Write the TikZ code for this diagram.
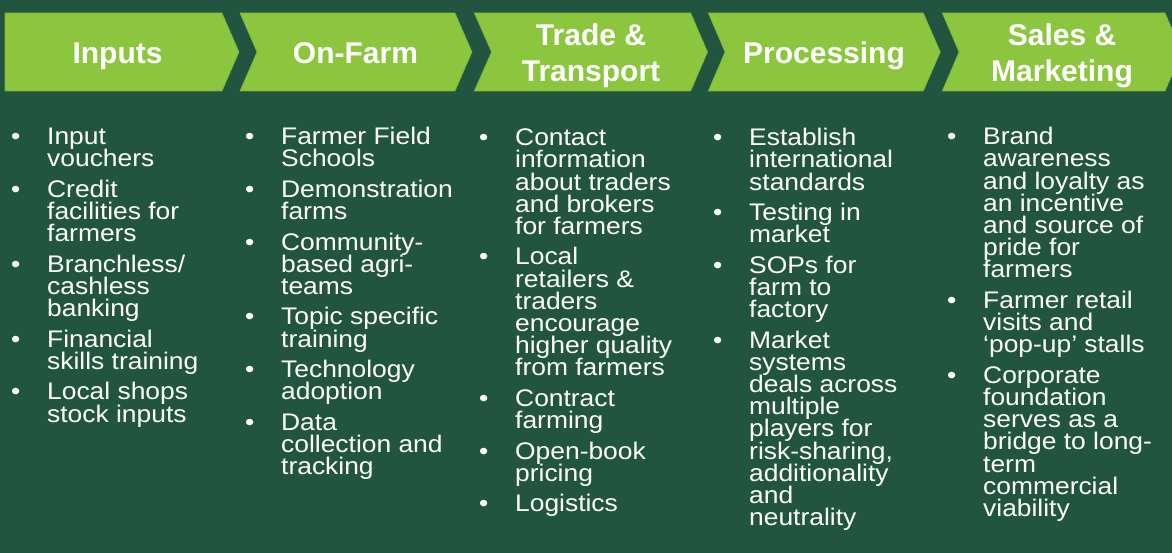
\documentclass[tikz,border=0pt]{standalone}
\usepackage{fontspec}
\setmainfont{Liberation Sans}
\newfontfamily\bodyfont{Liberation Sans}[FakeStretch=1.10]
\definecolor{bgGreen}{HTML}{22553F}
\definecolor{chevGreen}{HTML}{8CC63F}
\definecolor{chevEdge}{HTML}{7BAF3A}
\newcommand\bitem[1]{\par\noindent\hangindent=36pt\hangafter=1\makebox[36pt][l]{\rule{0pt}{20pt}•}#1\par}
\newenvironment{bcol}{\begin{minipage}[t]{240pt}\lineskiplimit=-100pt\parskip=8.3pt\parindent=0pt\relax}{\end{minipage}}
\tikzset{
  chev/.style={fill=chevGreen, draw=chevEdge, line width=0.6pt},
  head/.style={text=white, inner sep=0pt, anchor=north, align=center,
    font=\bfseries\fontsize{30}{35.3}\selectfont},
  col/.style={text=white, inner sep=0pt, anchor=north west,
    font=\bodyfont\fontsize{24}{22.2}\selectfont}
}
\begin{document}
\begin{tikzpicture}[x=1pt,y=-1pt]
\useasboundingbox (0,0) rectangle (1172,553);
\clip (0,0) rectangle (1172,553);
\fill[bgGreen] (0,0) rectangle (1172,553);
% chevrons
\draw[chev] (5,13) -- (222,13) -- (239,52) -- (222,91) -- (5,91) -- cycle;
\draw[chev] (240,13) -- (455,13) -- (472,52) -- (455,91) -- (240,91) -- (257,52) -- cycle;
\draw[chev] (474.3,13) -- (690.7,13) -- (707.5,52) -- (690.7,91) -- (474.3,91) -- (491.5,52) -- cycle;
\draw[chev] (708.3,13) -- (923.3,13) -- (940.3,52) -- (923.3,91) -- (708.3,91) -- (725,52) -- cycle;
\draw[chev] (942.3,13) -- (1165,13) -- (1182,52) -- (1165,91) -- (942.3,91) -- (959,52) -- cycle;
% headings
\node[head] (h1) at (117.5,38.3) {\rule{0pt}{25pt}Inputs};
\node[head] (h2) at (355.5,38.3) {\rule{0pt}{25pt}On-Farm};
\node[head] (h3) at (591,20.7) {\rule{0pt}{25pt}Trade \&\\Transport};
\node[head] (h4) at (824,38.3) {\rule{0pt}{25pt}Processing};
\node[head] (h5) at (1062,20.7) {\rule{0pt}{25pt}Sales \&\\Marketing};
% columns
\node[col] (c1) at (11,124.5) {\begin{bcol}
\bitem{Input\\vouchers}
\bitem{Credit\\facilities for\\farmers}
\bitem{Branchless/\\cashless\\banking}
\bitem{Financial\\skills training}
\bitem{Local shops\\stock inputs}
\end{bcol}};
\node[col] (c2) at (245,124.5) {\begin{bcol}
\bitem{Farmer Field\\Schools}
\bitem{Demonstration\\farms}
\bitem{Community-\\based agri-\\teams}
\bitem{Topic specific\\training}
\bitem{Technology\\adoption}
\bitem{Data\\collection and\\tracking}
\end{bcol}};
\node[col] (c3) at (479,125.5) {\begin{bcol}
\bitem{Contact\\information\\about traders\\and brokers\\for farmers}
\bitem{Local\\retailers \&\\traders\\encourage\\higher quality\\from farmers}
\bitem{Contract\\farming}
\bitem{Open-book\\pricing}
\bitem{Logistics}
\end{bcol}};
\node[col] (c4) at (713,125.5) {\begin{bcol}
\bitem{Establish\\international\\standards}
\bitem{Testing in\\market}
\bitem{SOPs for\\farm to\\factory}
\bitem{Market\\systems\\deals across\\multiple\\players for\\risk-sharing,\\additionality\\and\\neutrality}
\end{bcol}};
\node[col] (c5) at (947,124.5) {\begin{bcol}
\bitem{Brand\\awareness\\and loyalty as\\an incentive\\and source of\\pride for\\farmers}
\bitem{Farmer retail\\visits and\\‘pop-up’ stalls}
\bitem{Corporate\\foundation\\serves as a\\bridge to long-\\term\\commercial\\viability}
\end{bcol}};
\end{tikzpicture}
\end{document}
